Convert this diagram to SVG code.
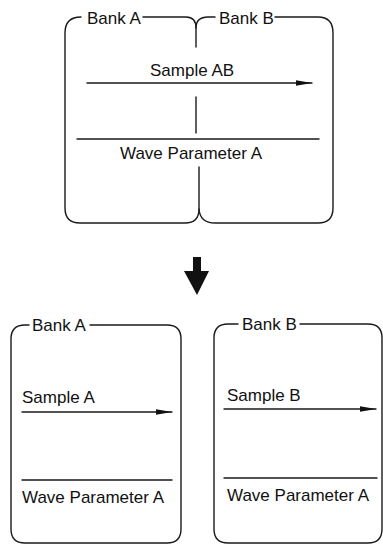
<svg xmlns="http://www.w3.org/2000/svg" width="383" height="545" viewBox="0 0 383 545">
<style>
.ln{fill:none;stroke:#1a1a1a;stroke-width:1.4;stroke-linecap:round;stroke-linejoin:round}
.t{font-family:"Liberation Sans",Arial,sans-serif;font-size:17px;fill:#111}
</style>
<defs>
<marker id="ah" viewBox="0 0 16 7" refX="16" refY="3.5" markerWidth="16" markerHeight="7" markerUnits="userSpaceOnUse" orient="auto">
<path d="M0,0.8 L16,3.5 L0,6.2 Z" fill="#111"/>
</marker>
</defs>
<rect width="383" height="545" fill="#fff"/>
<g id="bankAB">
<path class="ln" d="M81 17 Q65 17 65 33 L65 208 Q65 223 80 223 L185 223 Q199 223 199 209 L199 167"/>
<path class="ln" d="M143 17 L186 17 Q196 17 196 28 L196 47"/>
<path class="ln" d="M196 28 Q196 17 208 17 L215 17"/>
<path class="ln" d="M275 17 L318 17 Q333 17 333 33 L333 208 Q333 223 318 223 L215 223 Q200 223 199 209"/>
<line class="ln" x1="196" y1="97" x2="196" y2="133"/>
<text class="t" x="87" y="24">Bank A</text>
<text class="t" x="219" y="24">Bank B</text>
<text class="t" x="150" y="76">Sample AB</text>
<line class="ln" x1="87" y1="83" x2="312" y2="83" marker-end="url(#ah)"/>
<line class="ln" x1="77" y1="139" x2="319" y2="139"/>
<text class="t" x="120" y="159">Wave Parameter A</text>
</g>
<g id="bankA">
<path class="ln" d="M90 325 L167 325 Q181 325 181 339 L181 529 Q181 543 167 543 L25 543 Q11 543 11 529 L11 339 Q11 325 25 325 L29 325"/>
<text class="t" x="32" y="331">Bank A</text>
<text class="t" x="22" y="403">Sample A</text>
<line class="ln" x1="22" y1="412" x2="172" y2="412" marker-end="url(#ah)"/>
<line class="ln" x1="22" y1="480" x2="172" y2="480"/>
<text class="t" x="22" y="503">Wave Parameter A</text>
</g>
<g id="bankB">
<path class="ln" d="M300 324 L368 324 Q382 324 382 338 L382 529 Q382 543 368 543 L228 543 Q214 543 214 529 L214 338 Q214 324 228 324 L238 324"/>
<text class="t" x="242" y="330">Bank B</text>
<text class="t" x="227" y="401">Sample B</text>
<line class="ln" x1="224" y1="409" x2="376" y2="409" marker-end="url(#ah)"/>
<line class="ln" x1="224" y1="478" x2="377" y2="478"/>
<text class="t" x="227" y="501">Wave Parameter A</text>
</g>
<g id="connectors">
<polygon points="193,257 201,257 201,271 209,271 197,295 184,271 193,271" fill="#111"/>
</g>
</svg>
